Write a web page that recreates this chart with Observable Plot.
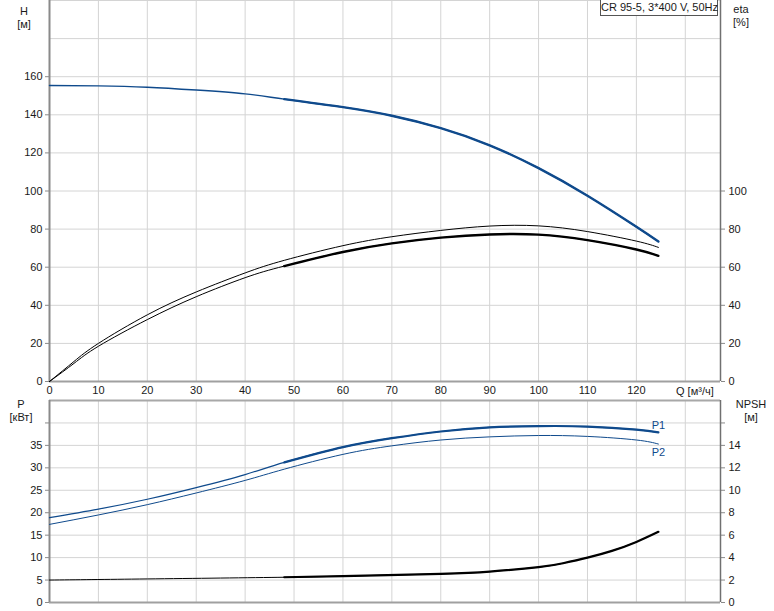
<!DOCTYPE html>
<html>
<head>
<meta charset="utf-8">
<script src="https://cdn.jsdelivr.net/npm/d3@7"></script>
<script src="https://cdn.jsdelivr.net/npm/@observablehq/plot@0.6"></script>
<style>
  body { margin: 0; background: #fff; }
  #wrap { position: relative; width: 774px; height: 611px; font-family: "Liberation Sans", Arial, sans-serif; font-size: 11px; color: #1a1a1a; }
  #wrap svg { position: absolute; left: 0; overflow: visible; }
  .lab { position: absolute; text-align: center; line-height: 13px; font-size: 11px; }
  .box { position: absolute; left: 600px; top: 0px; width: 116px; height: 15px; border: 1px solid #555; border-top: none; background: #fff; font-size: 11px; line-height: 15px; text-align: center; white-space: nowrap; }
</style>
</head>
<body>
<div id="wrap"></div>
<script>
// ---- data ----
const qH   = [0, 10, 20, 30, 40, 48, 60, 70, 80, 90, 100, 110, 120, 124.5];
const H    = [155.4, 155.2, 154.5, 153, 151, 148.2, 144, 139.5, 133, 124, 112, 97.5, 81.2, 73.5];

const qEta   = [0, 5, 10, 20, 30, 40, 48, 60, 70, 80, 90, 100, 110, 120, 124.5];
const etaP   = [0, 10.5, 20, 35, 47, 57, 63.6, 71.3, 76, 79.3, 81.6, 81.7, 78.7, 73.7, 70.4];
const etaT   = [0, 9.5, 18.5, 32.5, 44.5, 54.5, 60.6, 68, 72.5, 75.5, 77.2, 77.1, 74.2, 69.3, 66];

const qP = [0, 10, 20, 30, 40, 48, 60, 70, 80, 90, 100, 110, 120, 124.5];
const P1 = [18.9, 20.8, 23, 25.6, 28.5, 31.2, 34.6, 36.6, 38.1, 39, 39.3, 39.2, 38.5, 37.9];
const P2 = [17.4, 19.5, 21.8, 24.4, 27.2, 29.7, 33, 34.9, 36.2, 36.9, 37.2, 37, 36.2, 35.3];

const qN   = [0, 20, 48, 60, 80, 90, 100, 105, 110, 115, 120, 124.5];
const NPSH = [2.0, 2.1, 2.25, 2.35, 2.55, 2.75, 3.15, 3.5, 4.0, 4.6, 5.4, 6.3];

const qTicks   = [0, 10, 20, 30, 40, 50, 60, 70, 80, 90, 100, 110, 120];
const qGrid    = [10, 20, 30, 40, 50, 60, 70, 80, 90, 100, 110, 120, 130];
const hTicks   = [0, 20, 40, 60, 80, 100, 120, 140, 160];
const hGrid    = [20, 40, 60, 80, 100, 120, 140, 160, 180, 200];
const etaTicks = [0, 20, 40, 60, 80, 100];
const pTicks   = [0, 5, 10, 15, 20, 25, 30, 35, 40];
const pGrid    = [5, 10, 15, 20, 25, 30, 35, 40];
const npshTicks = [0, 2, 4, 6, 8, 10, 12, 14, 16];

const qMax = 137.2, hMax = 200, pMax = 45, npshPerP = 0.4;
const thickFrom = 48;
const blue = "#0f4a8c", grid = "#d4d4d4", axisCol = "#8a8a8a";

const hData = qH.map((q, i) => ({q, v: H[i]}));
const etaPData = qEta.map((q, i) => ({q, v: etaP[i]}));
const etaTData = qEta.map((q, i) => ({q, v: etaT[i]}));
const p1Data = qP.map((q, i) => ({q, v: P1[i]}));
const p2Data = qP.map((q, i) => ({q, v: P2[i]}));
const nData = qN.map((q, i) => ({q, v: NPSH[i] / npshPerP}));
const thick = arr => arr.filter(d => d.q >= thickFrom);

const curve = "natural";
const font = {fontFamily: "'Liberation Sans', Arial, sans-serif", fontSize: "11px", color: "#1a1a1a", background: "transparent"};

const topChart = Plot.plot({
  width: 774, height: 400,
  marginLeft: 49, marginRight: 54, marginTop: 0, marginBottom: 19,
  style: font,
  x: {domain: [0, qMax]},
  y: {domain: [0, hMax]},
  marks: [
    Plot.gridX(qGrid, {stroke: grid, strokeOpacity: 1}),
    Plot.gridY(hGrid, {stroke: grid, strokeOpacity: 1}),
    Plot.axisY(hTicks, {anchor: "left", tickSize: 4, tickPadding: 3, label: null, stroke: axisCol}),
    Plot.axisY(etaTicks, {anchor: "right", tickSize: 4, tickPadding: 4, label: null, stroke: axisCol}),
    Plot.axisX(qTicks, {anchor: "bottom", tickSize: 0, tickPadding: 5, label: null}),
    Plot.ruleY([0], {stroke: "#a0a0a0", strokeWidth: 2}),
    Plot.ruleX([0], {stroke: axisCol, strokeWidth: 2}),
    Plot.ruleX([qMax], {stroke: "#707070", strokeWidth: 1.5}),
    Plot.line(etaPData, {x: "q", y: "v", curve, stroke: "#000", strokeWidth: 1}),
    Plot.line(etaTData, {x: "q", y: "v", curve, stroke: "#000", strokeWidth: 1}),
    Plot.line(thick(etaTData), {x: "q", y: "v", curve, stroke: "#000", strokeWidth: 2.4}),
    Plot.line(hData, {x: "q", y: "v", curve, stroke: blue, strokeWidth: 1.4}),
    Plot.line(thick(hData), {x: "q", y: "v", curve, stroke: blue, strokeWidth: 2.4})
  ]
});
topChart.style.top = "0px";

const lastP1 = p1Data[p1Data.length - 1], lastP2 = p2Data[p2Data.length - 1];
const bottomChart = Plot.plot({
  width: 774, height: 211,
  marginLeft: 49, marginRight: 54, marginTop: 0, marginBottom: 9,
  style: font,
  x: {domain: [0, qMax], axis: null},
  y: {domain: [0, pMax]},
  marks: [
    Plot.gridX(qGrid, {stroke: grid, strokeOpacity: 1}),
    Plot.gridY(pGrid, {stroke: grid, strokeOpacity: 1}),
    Plot.axisY(pTicks, {anchor: "left", tickSize: 4, tickPadding: 3, label: null, stroke: axisCol,
      tickFormat: d => d >= 40 ? "" : d}),
    Plot.axisY(npshTicks.map(n => n / npshPerP), {anchor: "right", tickSize: 4, tickPadding: 4, label: null, stroke: axisCol,
      tickFormat: d => { const n = Math.round(d * npshPerP); return n >= 16 ? "" : n; }}),
    Plot.ruleY([0], {stroke: "#a0a0a0", strokeWidth: 2}),
    Plot.ruleY([pMax], {stroke: "#a8a8a8", strokeWidth: 2}),
    Plot.ruleX([0], {stroke: axisCol, strokeWidth: 2}),
    Plot.ruleX([qMax], {stroke: "#707070", strokeWidth: 1.5}),
    Plot.line(nData, {x: "q", y: "v", curve, stroke: "#000", strokeWidth: 1}),
    Plot.line(thick(nData), {x: "q", y: "v", curve, stroke: "#000", strokeWidth: 2.2}),
    Plot.line(p2Data, {x: "q", y: "v", curve, stroke: blue, strokeWidth: 1}),
    Plot.line(p1Data, {x: "q", y: "v", curve, stroke: blue, strokeWidth: 1.2}),
    Plot.line(thick(p1Data), {x: "q", y: "v", curve, stroke: blue, strokeWidth: 2.2}),
    Plot.text([lastP1], {x: "q", y: "v", text: () => "P1", dx: 0, dy: -7, fill: blue, textAnchor: "middle"}),
    Plot.text([lastP2], {x: "q", y: "v", text: () => "P2", dx: 0, dy: 8, fill: blue, textAnchor: "middle"})
  ]
});
bottomChart.style.top = "400px";

const wrap = document.getElementById("wrap");
wrap.appendChild(topChart);
wrap.appendChild(bottomChart);

function label(html, left, topPx, width) {
  const d = document.createElement("div");
  d.className = "lab";
  d.innerHTML = html;
  d.style.left = left + "px";
  d.style.top = topPx + "px";
  d.style.width = width + "px";
  wrap.appendChild(d);
}
label("H<br>[м]", 4, 5, 40);
label("eta<br>[%]", 721, 3, 40);
label("P<br>[кВт]", 1, 398, 40);
label("NPSH<br>[м]", 728, 398, 46);
const qLab = document.createElement("div");
qLab.className = "lab";
qLab.style.left = "676px"; qLab.style.top = "385px"; qLab.style.textAlign = "left";
qLab.innerHTML = "Q [м³/ч]";
wrap.appendChild(qLab);
const box = document.createElement("div");
box.className = "box";
box.textContent = "CR 95-5, 3*400 V, 50Hz";
wrap.appendChild(box);
</script>
</body>
</html>
